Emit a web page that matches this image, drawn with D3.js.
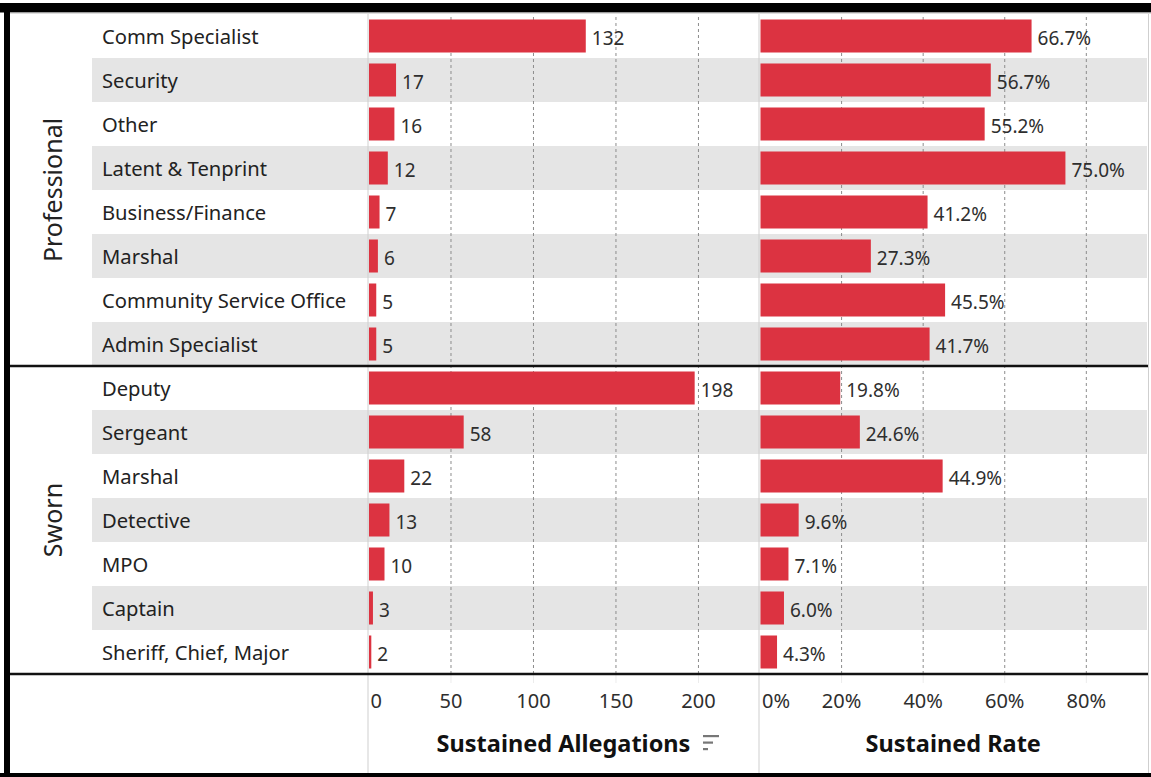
<!DOCTYPE html>
<html>
<head>
<meta charset="utf-8">
<script src="https://cdn.jsdelivr.net/npm/d3@7"></script>
<style>
  html, body { margin: 0; padding: 0; background: #fff; }
  svg { display: block; font-family: "Noto Sans", sans-serif; }
</style>
</head>
<body>
<div id="wrapper"></div>
<script>
// data
const groups = ["Professional", "Sworn"]

const professionalRoles = ["Comm Specialist", "Security", "Other", "Latent & Tenprint",
  "Business/Finance", "Marshal", "Community Service Office", "Admin Specialist"]
const professionalCounts = [132, 17, 16, 12, 7, 6, 5, 5]
const professionalRates = [0.667, 0.567, 0.552, 0.75, 0.412, 0.273, 0.455, 0.417]

const swornRoles = ["Deputy", "Sergeant", "Marshal", "Detective", "MPO", "Captain",
  "Sheriff, Chief, Major"]
const swornCounts = [198, 58, 22, 13, 10, 3, 2]
const swornRates = [0.198, 0.246, 0.449, 0.096, 0.071, 0.06, 0.043]

const countTicks = [0, 50, 100, 150, 200]
const rateTicks = [0, 0.2, 0.4, 0.6, 0.8]

const rows = [
  ...professionalRoles.map((r, i) => ({ group: groups[0], role: r, idx: i,
    count: professionalCounts[i], rate: professionalRates[i] })),
  ...swornRoles.map((r, i) => ({ group: groups[1], role: r, idx: i,
    count: swornCounts[i], rate: swornRates[i] })),
]
const keyAccessor = (d) => d.group + "|" + d.role

// dimensions
const dimensions = {
  width: 1151,
  height: 777,
  rowsTop: 14,
  rowsBottom: 674,
  bandLeft: 92,
  labelX: 102,
  countLeft: 368,
  countRight: 759,
  rateLeft: 759.5,
  rateRight: 1147,
}

const red = "#dc3341"

const svg = d3.select("#wrapper")
  .append("svg")
  .attr("width", dimensions.width)
  .attr("height", dimensions.height)

// scales
const yScale = d3.scaleBand()
  .domain(rows.map(keyAccessor))
  .range([dimensions.rowsTop, dimensions.rowsBottom])

const countScale = d3.scaleLinear()
  .domain([0, 237])
  .range([dimensions.countLeft, dimensions.countRight])

const rateScale = d3.scaleLinear()
  .domain([0, 0.95])
  .range([dimensions.rateLeft, dimensions.rateRight])

const rowH = yScale.bandwidth()
const barPad = rowH * 0.125
const barH = rowH * 0.75

// row bands
svg.append("g")
  .selectAll("rect")
  .data(rows.filter((d) => d.idx % 2 === 1))
  .join("rect")
  .attr("x", dimensions.bandLeft)
  .attr("y", (d) => yScale(keyAccessor(d)))
  .attr("width", dimensions.rateRight - dimensions.bandLeft)
  .attr("height", rowH)
  .attr("fill", "#e5e5e5")

// dashed gridlines
const gridHeight = dimensions.rowsBottom - dimensions.rowsTop
function drawGrid(scale, ticks) {
  const g = svg.append("g")
    .attr("transform", `translate(0, ${dimensions.rowsBottom})`)
    .call(d3.axisBottom(scale).tickValues(ticks.slice(1)).tickSize(-gridHeight).tickFormat(""))
  g.select(".domain").remove()
  g.selectAll("line")
    .attr("stroke", "#8c8c8c")
    .attr("stroke-dasharray", "3,3")
  // faint tick stubs below the rows
  svg.append("g")
    .selectAll("line")
    .data(ticks.slice(1))
    .join("line")
    .attr("x1", (d) => scale(d) + 0.5)
    .attr("x2", (d) => scale(d) + 0.5)
    .attr("y1", dimensions.rowsBottom)
    .attr("y2", dimensions.rowsBottom + 9)
    .attr("stroke", "#ececec")
}
drawGrid(countScale, countTicks)
drawGrid(rateScale, rateTicks)

// panel lines
svg.append("g")
  .selectAll("line")
  .data([dimensions.countLeft, dimensions.countRight, dimensions.rateRight + 1.5])
  .join("line")
  .attr("x1", (d) => d)
  .attr("x2", (d) => d)
  .attr("y1", dimensions.rowsTop)
  .attr("y2", 773)
  .attr("stroke", "#cfcfcf")

// bars
svg.append("g")
  .selectAll("rect")
  .data(rows)
  .join("rect")
  .attr("x", countScale(0) + 1)
  .attr("y", (d) => yScale(keyAccessor(d)) + barPad)
  .attr("width", (d) => countScale(d.count) - countScale(0) - 1)
  .attr("height", barH)
  .attr("fill", red)

svg.append("g")
  .selectAll("rect")
  .data(rows)
  .join("rect")
  .attr("x", rateScale(0) + 1)
  .attr("y", (d) => yScale(keyAccessor(d)) + barPad)
  .attr("width", (d) => rateScale(d.rate) - rateScale(0) - 1)
  .attr("height", barH)
  .attr("fill", red)

// value labels
svg.append("g")
  .selectAll("text")
  .data(rows)
  .join("text")
  .text((d) => d.count)
  .attr("x", (d) => countScale(d.count) + 6)
  .attr("y", (d) => yScale(keyAccessor(d)) + rowH / 2 + 9)
  .style("font-size", "19px")
  .style("fill", "#2e2e2e")

svg.append("g")
  .selectAll("text")
  .data(rows)
  .join("text")
  .text((d) => d3.format(".1%")(d.rate))
  .attr("x", (d) => rateScale(d.rate) + 6)
  .attr("y", (d) => yScale(keyAccessor(d)) + rowH / 2 + 9)
  .style("font-size", "19px")
  .style("fill", "#2e2e2e")

// row labels
svg.append("g")
  .selectAll("text")
  .data(rows)
  .join("text")
  .text((d) => d.role)
  .attr("x", dimensions.labelX)
  .attr("y", (d) => yScale(keyAccessor(d)) + rowH / 2 + 8)
  .style("font-size", "20.2px")
  .style("fill", "#222")

// group labels
svg.append("g")
  .selectAll("text")
  .data(groups)
  .join("text")
  .text((d) => d)
  .attr("transform", (g) => {
    const gr = rows.filter((d) => d.group === g)
    const y0 = yScale(keyAccessor(gr[0]))
    const y1 = yScale(keyAccessor(gr[gr.length - 1])) + rowH
    return `translate(62, ${(y0 + y1) / 2}) rotate(-90)`
  })
  .attr("text-anchor", "middle")
  .style("font-size", "25px")
  .style("fill", "#222")

// axes
function drawAxis(scale, ticks, fmt) {
  const axis = svg.append("g")
    .attr("transform", `translate(0, ${dimensions.rowsBottom})`)
    .call(d3.axisBottom(scale).tickValues(ticks).tickFormat(fmt).tickSize(0).tickPadding(0))
  axis.select(".domain").remove()
  axis.selectAll("text")
    .attr("y", 34)
    .attr("dy", 0)
    .style("font-size", "20px")
    .style("font-family", "'Noto Sans', sans-serif")
    .style("fill", "#2e2e2e")
  axis.selectAll(".tick")
    .filter((d) => d === 0)
    .select("text")
    .attr("text-anchor", "start")
    .attr("x", 2)
  return axis
}
drawAxis(countScale, countTicks, d3.format("d"))
drawAxis(rateScale, rateTicks, d3.format(".0%"))

// axis titles
svg.append("text")
  .text("Sustained Allegations")
  .attr("x", (dimensions.countLeft + dimensions.countRight) / 2)
  .attr("y", 752)
  .attr("text-anchor", "middle")
  .style("font-size", "23.5px")
  .style("font-weight", "bold")
  .style("fill", "#111")

svg.append("text")
  .text("Sustained Rate")
  .attr("x", (dimensions.rateLeft + dimensions.rateRight) / 2)
  .attr("y", 752)
  .attr("text-anchor", "middle")
  .style("font-size", "23.5px")
  .style("font-weight", "bold")
  .style("fill", "#111")

// sort icon
svg.append("g")
  .selectAll("rect")
  .data([16, 10, 5])
  .join("rect")
  .attr("x", 703)
  .attr("y", (d, i) => 735 + i * 6.5)
  .attr("width", (d) => d)
  .attr("height", 2.2)
  .attr("fill", "#777")

// separators
svg.append("g")
  .selectAll("line")
  .data([yScale(keyAccessor(rows[8])), dimensions.rowsBottom])
  .join("line")
  .attr("x1", 10)
  .attr("x2", dimensions.rateRight + 1)
  .attr("y1", (d) => d)
  .attr("y2", (d) => d)
  .attr("stroke", "#111")
  .attr("stroke-width", 2.5)

// frame
const frame = svg.append("g")
frame.append("rect").attr("x", 0).attr("y", 3).attr("width", dimensions.width).attr("height", 9.5).attr("fill", "#000")
frame.append("line").attr("x1", 10).attr("x2", dimensions.width).attr("y1", 13).attr("y2", 13).attr("stroke", "#bbb")
frame.append("rect").attr("x", 4).attr("y", 3).attr("width", 6).attr("height", 774).attr("fill", "#000")
frame.append("rect").attr("x", 0).attr("y", 773).attr("width", dimensions.width).attr("height", 4).attr("fill", "#000")
</script>
</body>
</html>
